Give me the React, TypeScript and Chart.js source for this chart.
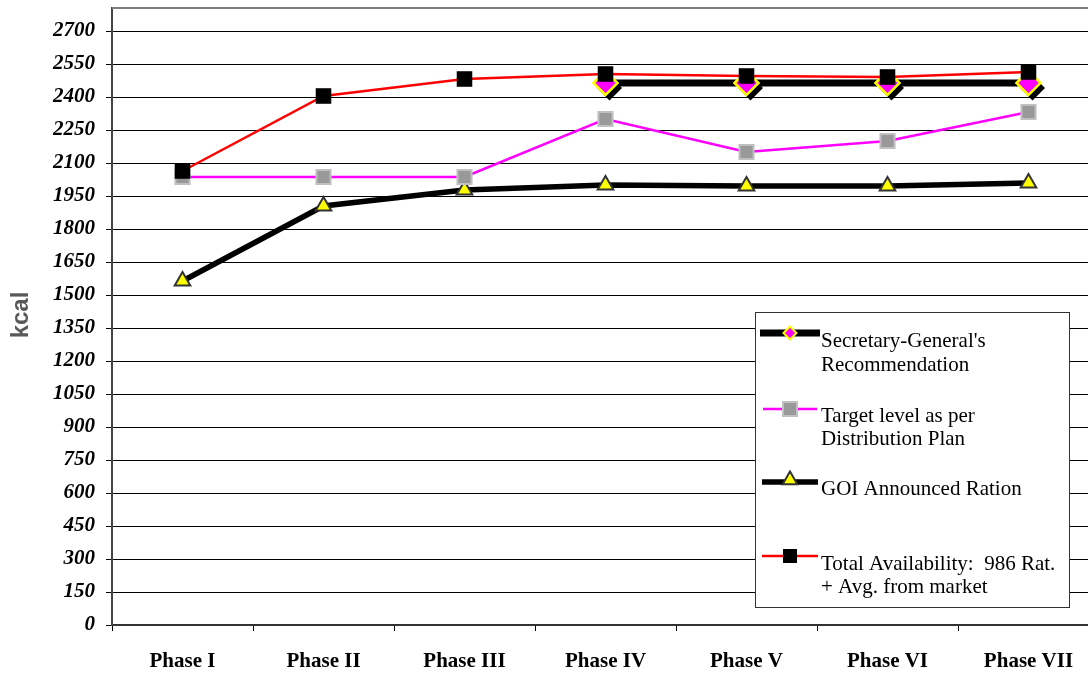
import React, { useEffect, useRef } from "react";
import { Chart, registerables } from "chart.js";

Chart.register(...registerables);

// ---- data ----
const phases = ["Phase I", "Phase II", "Phase III", "Phase IV", "Phase V", "Phase VI", "Phase VII"];
const secretaryGeneral = [null, null, null, 2463, 2463, 2463, 2463];
const targetLevel = [2038, 2038, 2038, 2298, 2152, 2202, 2330];
const goiRation = [1565, 1906, 1979, 2001, 1994, 1994, 2009];
const totalAvailability = [2065, 2406, 2480, 2505, 2494, 2493, 2512];
const yTickValues = [0, 150, 300, 450, 600, 750, 900, 1050, 1200, 1350, 1500, 1650, 1800, 1950, 2100, 2250, 2400, 2550, 2700];
const yAxisTitle = "kcal";
const legendLabels = [
  ["Secretary-General's", "Recommendation"],
  ["Target level as per", "Distribution Plan"],
  ["GOI Announced Ration"],
  ["Total Availability:  986 Rat.", "+ Avg. from market"],
];

const SERIF = '"Liberation Serif", "Times New Roman", serif';
const SANS = '"Liberation Sans", Arial, sans-serif';

function diamond(ctx: CanvasRenderingContext2D, x: number, y: number, r: number) {
  ctx.beginPath();
  ctx.moveTo(x, y - r);
  ctx.lineTo(x + r, y);
  ctx.lineTo(x, y + r);
  ctx.lineTo(x - r, y);
  ctx.closePath();
}

function triangle(ctx: CanvasRenderingContext2D, x: number, y: number, r: number) {
  const h = (r * Math.sqrt(3)) / 2;
  ctx.beginPath();
  ctx.moveTo(x, y - r);
  ctx.lineTo(x + h, y + r / 2);
  ctx.lineTo(x - h, y + r / 2);
  ctx.closePath();
}

// dark offset shadow under the recommendation diamonds
const diamondShadow = {
  id: "diamondShadow",
  beforeDatasetDraw(chart: any, args: any) {
    if (args.index !== 0) return;
    const ctx = chart.ctx;
    const meta = chart.getDatasetMeta(0);
    ctx.save();
    ctx.fillStyle = "#000";
    meta.data.forEach((pt: any) => {
      if (pt.skip) return;
      diamond(ctx, pt.x + 4, pt.y + 5, 12.5);
      ctx.fill();
    });
    ctx.restore();
  },
};

const frameAndLegend = {
  id: "frameAndLegend",
  afterDraw(chart: any) {
    const ctx: CanvasRenderingContext2D = chart.ctx;
    const area = chart.chartArea;
    ctx.save();

    // top frame of plot area
    ctx.strokeStyle = "#808080";
    ctx.lineWidth = 2;
    ctx.beginPath();
    ctx.moveTo(area.left, area.top);
    ctx.lineTo(chart.width, area.top);
    ctx.stroke();

    // y-axis title
    ctx.save();
    ctx.translate(21, 315);
    ctx.rotate(-Math.PI / 2);
    ctx.font = `bold 24px ${SANS}`;
    ctx.fillStyle = "#595959";
    ctx.textAlign = "center";
    ctx.textBaseline = "middle";
    ctx.fillText(yAxisTitle, 0, 0);
    ctx.restore();

    // legend box
    const bx = 755.5, by = 312.5, bw = 314, bh = 295;
    ctx.fillStyle = "#fff";
    ctx.fillRect(bx, by, bw, bh);
    ctx.strokeStyle = "#333";
    ctx.lineWidth = 1;
    ctx.strokeRect(bx, by, bw, bh);

    const lineYs = [333, 409, 482, 556];
    const textYs = [[341, 365], [416, 439], [489], [564, 587]];
    const mx = 790;

    // Secretary-General's Recommendation
    ctx.strokeStyle = "#000";
    ctx.lineWidth = 7;
    ctx.beginPath();
    ctx.moveTo(760, lineYs[0]);
    ctx.lineTo(820, lineYs[0]);
    ctx.stroke();
    diamond(ctx, mx, lineYs[0], 6.5);
    ctx.fillStyle = "#ff00ff";
    ctx.fill();
    ctx.strokeStyle = "#ffff00";
    ctx.lineWidth = 2;
    ctx.stroke();

    // Target level
    ctx.strokeStyle = "#ff00ff";
    ctx.lineWidth = 2.5;
    ctx.beginPath();
    ctx.moveTo(763, lineYs[1]);
    ctx.lineTo(817, lineYs[1]);
    ctx.stroke();
    ctx.fillStyle = "#999";
    ctx.fillRect(mx - 7, lineYs[1] - 7, 14, 14);
    ctx.strokeStyle = "#c0c0c0";
    ctx.lineWidth = 2;
    ctx.strokeRect(mx - 7, lineYs[1] - 7, 14, 14);

    // GOI ration
    ctx.strokeStyle = "#000";
    ctx.lineWidth = 5.5;
    ctx.beginPath();
    ctx.moveTo(762, lineYs[2]);
    ctx.lineTo(818, lineYs[2]);
    ctx.stroke();
    triangle(ctx, mx, lineYs[2] - 2, 8.5);
    ctx.fillStyle = "#ffff00";
    ctx.fill();
    ctx.strokeStyle = "#333";
    ctx.lineWidth = 2;
    ctx.stroke();

    // Total availability
    ctx.strokeStyle = "#ff0000";
    ctx.lineWidth = 2.5;
    ctx.beginPath();
    ctx.moveTo(762, lineYs[3]);
    ctx.lineTo(818, lineYs[3]);
    ctx.stroke();
    ctx.fillStyle = "#000";
    ctx.fillRect(mx - 7, lineYs[3] - 7, 14, 14);

    ctx.fillStyle = "#000";
    ctx.font = `21px ${SERIF}`;
    ctx.textAlign = "left";
    ctx.textBaseline = "middle";
    legendLabels.forEach((lines, i) => {
      lines.forEach((t, j) => ctx.fillText(t, 821, textYs[i][j]));
    });

    ctx.restore();
  },
};

export default function App() {
  const canvasRef = useRef<HTMLCanvasElement | null>(null);

  useEffect(() => {
    if (!canvasRef.current) return;
    const chart = new Chart(canvasRef.current, {
      type: "line",
      data: {
        labels: phases,
        datasets: [
          {
            label: legendLabels[0].join(" "),
            data: secretaryGeneral,
            borderColor: "#000",
            borderWidth: 7,
            pointStyle: "rectRot",
            pointRadius: 12,
            pointBackgroundColor: "#ff00ff",
            pointBorderColor: "#ffff00",
            pointBorderWidth: 2.5,
            tension: 0,
            order: 2,
          },
          {
            label: legendLabels[1].join(" "),
            data: targetLevel,
            borderColor: "#ff00ff",
            borderWidth: 2.5,
            pointStyle: "rect",
            pointRadius: 10,
            pointBackgroundColor: "#999999",
            pointBorderColor: "#c0c0c0",
            pointBorderWidth: 2,
            tension: 0,
            order: 1,
          },
          {
            label: legendLabels[2].join(" "),
            data: goiRation,
            borderColor: "#000",
            borderWidth: 5.5,
            pointStyle: "triangle",
            pointRadius: 9,
            pointBackgroundColor: "#ffff00",
            pointBorderColor: "#333",
            pointBorderWidth: 2,
            tension: 0,
            order: 3,
          },
          {
            label: legendLabels[3].join(" "),
            data: totalAvailability,
            borderColor: "#ff0000",
            borderWidth: 2.5,
            pointStyle: "rect",
            pointRadius: 11,
            pointBackgroundColor: "#000",
            pointBorderColor: "#000",
            pointBorderWidth: 0,
            tension: 0,
            order: 0,
          },
        ],
      },
      options: {
        animation: false,
        responsive: false,
        devicePixelRatio: 1,
        layout: { autoPadding: false, padding: { left: 0, right: 1, top: 8, bottom: 0 } },
        plugins: { legend: { display: false }, tooltip: { enabled: false } },
        scales: {
          x: {
            type: "category",
            offset: true,
            grid: { offset: true, drawOnChartArea: false, drawTicks: true, tickLength: 6, color: "#000", lineWidth: 1 },
            border: { display: true, color: "#333", width: 2 },
            ticks: {
              font: { family: SERIF, size: 21, weight: "bold" },
              color: "#000",
              padding: 18,
              maxRotation: 0,
              autoSkip: false,
            },
            afterFit: (s: any) => {
              s.height = 48;
              s.paddingLeft = 0;
              s.paddingRight = 0;
            },
          },
          y: {
            min: 0,
            max: 2804.5,
            alignToPixels: true,
            afterBuildTicks: (s: any) => {
              s.ticks = yTickValues.map((v) => ({ value: v }));
            },
            grid: { color: "#000", lineWidth: 1, tickLength: 6, drawTicks: true },
            border: { display: true, color: "#444", width: 2 },
            ticks: {
              font: { family: SERIF, size: 21, weight: "bold", style: "italic" },
              color: "#000",
              padding: 11,
              callback: (v: any) => String(v),
            },
            afterFit: (s: any) => {
              s.width = 112;
              s.paddingTop = 0;
              s.paddingBottom = 0;
            },
          },
        },
      } as any,
      plugins: [diamondShadow, frameAndLegend],
    });
    return () => chart.destroy();
  }, []);

  return (
    <div
      style={{
        position: "absolute",
        left: 0,
        top: 0,
        width: 1088,
        height: 673,
        overflow: "hidden",
        background: "#fff",
      }}
    >
      <canvas ref={canvasRef} width={1100} height={673} style={{ display: "block" }} />
    </div>
  );
}
